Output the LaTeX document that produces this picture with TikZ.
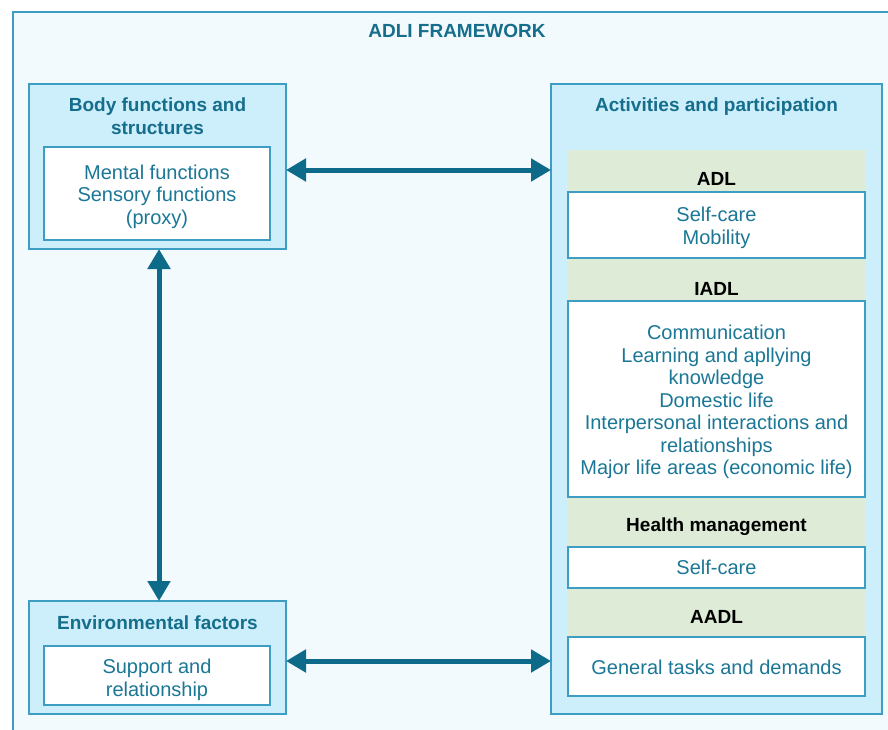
\documentclass[tikz,border=0pt]{standalone}
\usepackage{fontspec}
\setmainfont{Liberation Sans}
\usetikzlibrary{arrows.meta}
\definecolor{framec}{HTML}{3D9DC3}
\definecolor{bgc}{HTML}{F3FAFD}
\definecolor{lbluec}{HTML}{CDEEFB}
\definecolor{bandc}{HTML}{DEEBD6}
\definecolor{tealtxt}{HTML}{156E8B}
\definecolor{innertxt}{HTML}{1B7796}
\definecolor{arrowc}{HTML}{0D6B89}
\begin{document}
\begin{tikzpicture}[x=1pt,y=-1pt,
  outerbox/.style={draw=framec, line width=2pt, fill=lbluec, inner sep=0pt, outer sep=0pt, anchor=north west},
  innerbox/.style={draw=framec, line width=2pt, fill=white, inner sep=0pt, outer sep=0pt, anchor=north west},
  innertext/.style={align=center, text=innertxt, inner sep=0pt, font=\fontsize{20}{22.5}\selectfont},
  ttl/.style={font=\bfseries\fontsize{19}{23}\selectfont, text=tealtxt, align=center, inner sep=0pt},
  hdr/.style={font=\bfseries\fontsize{19}{23}\selectfont, text=black, inner sep=0pt},
  arr/.style={line width=5pt, draw=arrowc, {Triangle[width=22pt,length=20pt]}-{Triangle[width=22pt,length=20pt]}}]
\useasboundingbox (0,0) rectangle (888,729);
\fill[white] (0,0) rectangle (888,729);
\begin{scope}
\clip (0,0) rectangle (888,729);
\draw[framec, line width=2pt, fill=bgc] (13,12) rectangle (900,745);
\end{scope}
\node[ttl] (title) at (457,31) {ADLI FRAMEWORK};
% Body functions
\node[outerbox, minimum width=257pt, minimum height=165pt] (body) at (29,84) {};
\node[ttl] (bodyt) at (157.5,116.5) {Body functions and\\structures};
\node[innerbox, minimum width=226pt, minimum height=93pt] (bodyin) at (44,147) {};
\node[innertext] (bodytx) at ([yshift=-3pt]bodyin.center) {Mental functions\\Sensory functions\\(proxy)};
% Environmental
\node[outerbox, minimum width=257pt, minimum height=113pt] (env) at (29,601) {};
\node[ttl] (envt) at (157.5,622.5) {Environmental factors};
\begin{scope}
\node[innerbox, minimum width=226pt, minimum height=59pt] (envin) at (44,646) {};
\clip (envin.north west) rectangle (envin.south east);
\node[innertext] (envtx) at ([yshift=-4.5pt]envin.center) {Support and\\relationship};
\end{scope}
\draw[framec, line width=2pt] (envin.north west) rectangle (envin.south east);
% Activities
\node[outerbox, minimum width=331pt, minimum height=630pt] (act) at (551,84) {};
\node[ttl] (actt) at (716.5,106.5) {Activities and participation};
\fill[bandc] (568,150) rectangle (865,637);
\node[hdr] (adl) at (716.5,179) {ADL};
\node[innerbox, minimum width=297pt, minimum height=66pt] (adlin) at (568,192) {};
\node[innertext] (adltx) at ([yshift=-3pt]adlin.center) {Self-care\\Mobility};
\node[hdr] (iadl) at (716.5,289) {IADL};
\node[innerbox, minimum width=297pt, minimum height=196pt] (iadlin) at (568,301) {};
\node[innertext] (iadltx) at ([yshift=-3pt]iadlin.center) {Communication\\Learning and apllying\\knowledge\\Domestic life\\Interpersonal interactions and\\relationships\\Major life areas (economic life)};
\node[hdr] (hm) at (716.5,527) {Health management};
\node[innerbox, minimum width=297pt, minimum height=41pt] (hmin) at (568,547) {};
\node[innertext] (hmtx) at (hmin.center) {Self-care};
\node[hdr] (aadl) at (716.5,617) {AADL};
\node[innerbox, minimum width=297pt, minimum height=59pt] (aadlin) at (568,637) {};
\node[innertext] (aadltx) at ([yshift=-1pt]aadlin.center) {General tasks and demands};
% Arrows
\coordinate (ya) at (0,170);
\coordinate (yb) at (0,661);
\draw[arr] (body.east |- ya) -- (act.west |- ya);
\draw[arr] (env.east |- yb) -- (act.west |- yb);
\draw[arr] ([xshift=1.5pt]body.south) -- ([xshift=1.5pt]env.north);
\end{tikzpicture}
\end{document}
